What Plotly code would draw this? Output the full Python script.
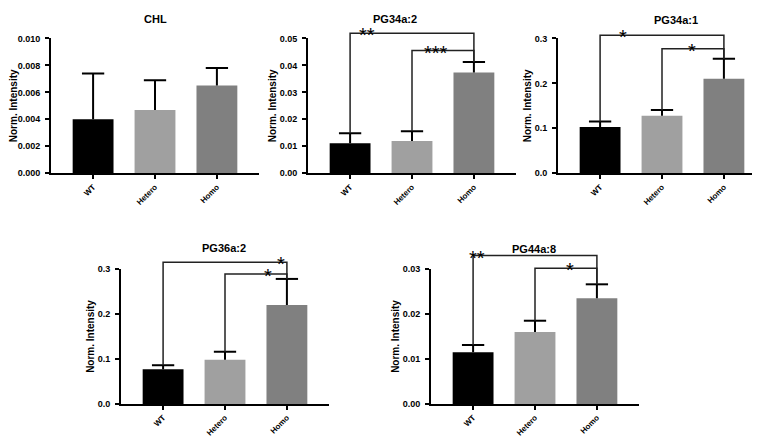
import plotly.graph_objects as go

# ---------------- data ----------------
categories = ["WT", "Hetero", "Homo"]
bar_colors = ["#000000", "#a0a0a0", "#808080"]

titles = ["CHL", "PG34a:2", "PG34a:1", "PG36a:2", "PG44a:8"]

chl_vals = [0.0040, 0.0047, 0.0065]
chl_err = [0.0034, 0.0022, 0.0013]

pg34a2_vals = [0.0111, 0.0120, 0.0374]
pg34a2_err = [0.0037, 0.0036, 0.0039]

pg34a1_vals = [0.103, 0.128, 0.210]
pg34a1_err = [0.012, 0.013, 0.045]

pg36a2_vals = [0.077, 0.098, 0.220]
pg36a2_err = [0.009, 0.018, 0.058]

pg44a8_vals = [0.0115, 0.0160, 0.0235]
pg44a8_err = [0.0016, 0.0025, 0.0031]

values = [chl_vals, pg34a2_vals, pg34a1_vals, pg36a2_vals, pg44a8_vals]
errors = [chl_err, pg34a2_err, pg34a1_err, pg36a2_err, pg44a8_err]

y_max = [0.010, 0.05, 0.3, 0.3, 0.03]
y_dtick = [0.002, 0.01, 0.1, 0.1, 0.01]
y_format = [".3f", ".2f", ".1f", ".1f", ".2f"]

# significance brackets: (panel, from_idx, to_idx, level, label, label_pos_in_categories)
brackets = [
    (1, 0, 2, 0.0519, "**", 0.27),
    (1, 1, 2, 0.0455, "***", 1.38),
    (2, 0, 2, 0.307, "*", 0.37),
    (2, 1, 2, 0.277, "*", 1.48),
    (3, 0, 2, 0.315, "*", 1.91),
    (3, 1, 2, 0.289, "*", 1.70),
    (4, 0, 2, 0.0330, "**", 0.07),
    (4, 1, 2, 0.0302, "*", 1.56),
]

# ---------------- layout geometry ----------------
W, H = 760, 439
x_px = [(43, 251), (300, 508), (550, 758), (113, 321), (423, 631)]
y_px = [(26, 164), (26, 164), (26, 164), (262, 400), (262, 400)]
title_pos = [(0.5, 1.145), (0.418, 1.145), (0.567, 1.14), (0.495, 1.154), (0.495, 1.147)]
x_range = [-0.68, 2.68]
cap_half = 0.18
bar_width = 0.66

FONT = "Arial, Liberation Sans, sans-serif"

fig = go.Figure()
layout = dict(
    width=W, height=H, margin=dict(l=0, r=0, t=0, b=0),
    paper_bgcolor="white", plot_bgcolor="white", showlegend=False,
    font=dict(family=FONT, color="black"),
)

def xfrac(c):
    return (c - x_range[0]) / (x_range[1] - x_range[0])

positions = list(range(len(categories)))

shapes = []
annotations = []
for k in range(5):
    sx = "" if k == 0 else str(k + 1)
    fig.add_trace(go.Bar(
        x=positions, y=values[k],
        marker=dict(color=bar_colors, line=dict(width=0)),
        width=bar_width,
        xaxis="x" + sx, yaxis="y" + sx, hoverinfo="skip",
    ))
    # one-sided (upward) error bars, no crossbar at bar top
    ex, ey = [], []
    for i, (v, e) in enumerate(zip(values[k], errors[k])):
        ex += [i, i, None, i - cap_half, i + cap_half, None]
        ey += [v, v + e, None, v + e, v + e, None]
    fig.add_trace(go.Scatter(
        x=ex, y=ey, mode="lines", line=dict(color="black", width=2),
        xaxis="x" + sx, yaxis="y" + sx, hoverinfo="skip", cliponaxis=False,
    ))
    x0, x1 = x_px[k]
    y0, y1 = y_px[k]
    layout["xaxis" + sx] = dict(
        domain=[x0 / W, x1 / W], anchor="y" + sx, range=x_range,
        tickmode="array", tickvals=positions, ticktext=categories,
        showline=True, linewidth=2, linecolor="black", ticks="outside",
        ticklen=4, tickwidth=2, tickcolor="black", tickangle=-45,
        tickfont=dict(size=8, weight="bold", family=FONT), showgrid=False,
        zeroline=False, fixedrange=True,
    )
    layout["yaxis" + sx] = dict(
        domain=[1 - y1 / H, 1 - y0 / H], anchor="x" + sx, range=[0, y_max[k]],
        dtick=y_dtick[k], tick0=0, tickformat=y_format[k],
        showline=True, linewidth=2, linecolor="black", ticks="outside",
        ticklen=4, tickwidth=2, tickcolor="black", showgrid=False, zeroline=False,
        tickfont=dict(size=9, weight="bold", family=FONT), ticklabelstandoff=3,
        title=dict(text="Norm. Intensity", font=dict(size=10, weight="bold", family=FONT), standoff=1),
        fixedrange=True,
    )
    tx, ty = title_pos[k]
    annotations.append(dict(
        text=titles[k], xref="x" + sx + " domain", yref="y" + sx + " domain",
        x=tx, y=ty, xanchor="center", yanchor="middle", showarrow=False,
        font=dict(size=11, weight="bold", family=FONT, color="black"),
    ))

for (p, i, j, level, label, lpos) in brackets:
    sx = "" if p == 0 else str(p + 1)
    ym = y_max[p]
    top_i = (values[p][i] + errors[p][i]) / ym
    top_j = (values[p][j] + errors[p][j]) / ym
    lv = level / ym
    xi, xj = xfrac(i), xfrac(j)
    path = f"M {xi},{top_i} L {xi},{lv} L {xj},{lv} L {xj},{top_j}"
    shapes.append(dict(
        type="path", path=path, xref="x" + sx + " domain", yref="y" + sx + " domain",
        line=dict(color="#222222", width=1.5),
    ))
    annotations.append(dict(
        text=label, xref="x" + sx + " domain", yref="y" + sx + " domain",
        x=xfrac(lpos), y=lv, xanchor="center", yanchor="middle", yshift=-2,
        showarrow=False, font=dict(size=20, family=FONT, color="#000000"),
    ))

layout["shapes"] = shapes
layout["annotations"] = annotations
fig.update_layout(**layout)
fig.write_html("out.html")
